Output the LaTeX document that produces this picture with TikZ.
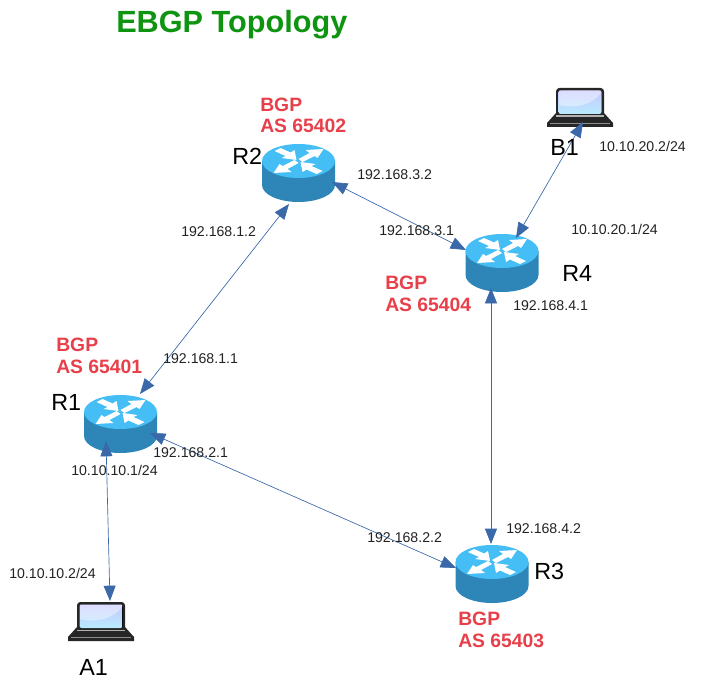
\documentclass[tikz,border=0pt]{standalone}
\usepackage{fontspec}
\setmainfont{Liberation Sans}
\usetikzlibrary{arrows.meta}
\definecolor{linkblue}{HTML}{3A68A8}
\definecolor{topcyan}{HTML}{45BDF5}
\definecolor{bodyblue}{HTML}{2E86B8}
\definecolor{redtxt}{HTML}{E8404A}
\definecolor{titlegreen}{HTML}{0E9410}
\definecolor{txt}{HTML}{222222}
\tikzset{
  x=0.75pt,y=-0.75pt,
  link/.style={draw=linkblue,line width=0.5pt,{Triangle[length=11.5pt,width=9pt,fill=linkblue]}-{Triangle[length=11.5pt,width=9pt,fill=linkblue]}},
  addr/.style={anchor=base west,inner sep=0pt,font=\fontsize{10.6}{12}\selectfont,text=txt},
  bgp/.style={anchor=base west,inner sep=0pt,align=left,font=\fontsize{14.5}{15.8}\selectfont\bfseries,text=redtxt},
  rname/.style={anchor=base west,inner sep=0pt,font=\fontsize{17.5}{20}\selectfont,text=black},
  rarrow/.style={fill=white,draw=none},
  router/.pic={
    \fill[bodyblue] (-36.5,0) -- (-36.5,24) arc[start angle=180,end angle=0,x radius=36.5,y radius=17] -- (36.5,0) -- cycle;
    \fill[topcyan] (0,0) ellipse[x radius=36.5,y radius=17];
    \fill[rarrow] (25,-12) -- (7,-11) -- (11,-8) -- (0,-2) -- (4,1) -- (16,-5) -- (19,-3) -- cycle;
    \fill[rarrow] (-25,12) -- (-7,11) -- (-11,8) -- (0,2) -- (-4,-1) -- (-16,5) -- (-19,3) -- cycle;
    \fill[rarrow] (-2,-1) -- (-4,-11) -- (-8,-8.5) -- (-18,-13) -- (-24,-10) -- (-13,-5) -- (-17,-3) -- cycle;
    \fill[rarrow] (2,1) -- (4,11) -- (8,8.5) -- (18,13) -- (24,10) -- (13,5) -- (17,3) -- cycle;
  },
  laptop/.pic={
    \fill[black!85,rounded corners=2.5pt] (-24,-15) rectangle (24,15);
    \fill[black!85] (-24,10) -- (24,10) -- (33,20) -- (33,24) -- (-33,24) -- (-33,20) -- cycle;
    \fill[gray!60] (-24,12.5) rectangle (24,14);
    \fill[black!45] (-30,20) -- (30,20) -- (30,20.8) -- (-30,20.8) -- cycle;
    \fill[top color=blue!22!white,bottom color=blue!28!cyan!28,rounded corners=1.5pt] (-21.5,-12.5) rectangle (21.5,11);
    \fill[white,opacity=.4] (-21,2) .. controls (-5,6) and (12,2) .. (21,-10) -- (21,-12.5) -- (-21,-12.5) -- cycle;
  }
}
\begin{document}
\begin{tikzpicture}
\useasboundingbox (0,0) rectangle (720,695);
\node[anchor=base west,inner sep=0pt,font=\fontsize{23}{26}\selectfont\bfseries,text=titlegreen] (title) at (116,33) {EBGP Topology};

\pic at (120.5,412) {router};
\pic at (298.5,161) {router};
\pic at (492,562) {router};
\pic at (502,251) {router};
\pic at (580,103) {laptop};
\pic at (101,617) {laptop};

\coordinate (r1a) at (140,394);
\coordinate (r2a) at (289,204);
\coordinate (r2b) at (332,182);
\coordinate (r4a) at (466,250);
\coordinate (b1) at (583,122);
\coordinate (r4b) at (516,238);
\coordinate (r4c) at (491,288);
\coordinate (r3a) at (491,544);
\coordinate (r1b) at (150,433);
\coordinate (r3b) at (456,568);
\coordinate (r1c) at (106,441);
\coordinate (a1) at (110,601);

\draw[link] (r1a) -- (r2a);
\draw[link] (r2b) -- (r4a);
\draw[link] (b1) -- (r4b);
\draw[link] (r4c) -- (r3a);
\draw[link] (r1b) -- (r3b);
\draw[link] (r1c) -- (a1);

\node[bgp] (b2) at (260,133) {BGP\\AS 65402};
\node[bgp] (b4) at (385,311) {BGP\\AS 65404};
\node[bgp] (b1l) at (56,373) {BGP\\AS 65401};
\node[bgp] (b3) at (458,647) {BGP\\AS 65403};

\node[rname] (nR2) at (232,165) {R2};
\node[rname] (nB1) at (550,156) {B1};
\node[rname] (nR4) at (562,281) {R4};
\node[rname] (nR1) at (51,410) {R1};
\node[rname] (nR3) at (534,579) {R3};
\node[rname] (nA1) at (79,675) {A1};

\node[addr] (l1) at (357,180) {192.168.3.2};
\node[addr] (l2) at (599,152) {10.10.20.2/24};
\node[addr] (l3) at (571,234) {10.10.20.1/24};
\node[addr] (l4) at (181,237) {192.168.1.2};
\node[addr] (l5) at (379,235) {192.168.3.1};
\node[addr] (l6) at (513,310) {192.168.4.1};
\node[addr] (l7) at (163,363) {192.168.1.1};
\node[addr] (l8) at (153,457) {192.168.2.1};
\node[addr] (l9) at (71,475) {10.10.10.1/24};
\node[addr] (l10) at (506,533) {192.168.4.2};
\node[addr] (l11) at (367,542) {192.168.2.2};
\node[addr] (l12) at (9,578) {10.10.10.2/24};
\end{tikzpicture}
\end{document}
